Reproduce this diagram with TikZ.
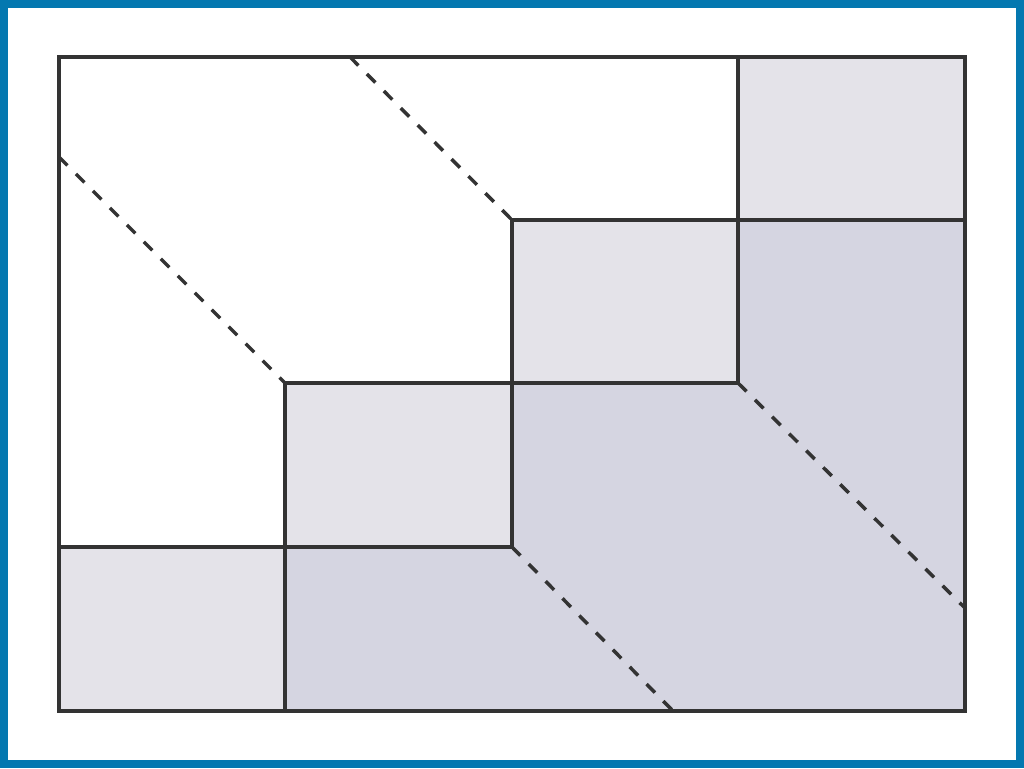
\documentclass[tikz,border=0pt]{standalone}
\begin{document}
\begin{tikzpicture}[x=1pt,y=-1pt,
  wall/.style={draw=dark,line width=3.5pt,line cap=rect},
  fold/.style={draw=dark,line width=3.5pt,dash pattern=on 12pt off 12pt},
  lightcell/.style={fill=lightgray1},
  darkcell/.style={fill=darkgray1}]
\definecolor{dark}{HTML}{333333}
\definecolor{frameblue}{HTML}{0478B0}
\definecolor{lightgray1}{HTML}{E4E3E9}
\definecolor{darkgray1}{HTML}{D5D5E1}
\useasboundingbox (0,0) rectangle (1024,768);
\fill[white] (0,0) rectangle (1024,768);
\draw[frameblue,line width=8pt] (4,4) rectangle (1020,764);
% grid coordinates
\coordinate (tl) at (59,57);
\coordinate (br) at (965,711);
% fills
\path[lightcell] (738,57) rectangle (965,220);
\path[lightcell] (512,220) rectangle (738,383);
\path[lightcell] (285,383) rectangle (512,547);
\path[lightcell] (59,547) rectangle (285,711);
\path[darkcell] (738,220) -- (965,220) -- (965,711) -- (285,711) -- (285,547) -- (512,547) -- (512,383) -- (738,383) -- cycle;
% dashed folds
\coordinate (d1a) at (59,157); \coordinate (d1b) at (285,383);
\coordinate (d2a) at (350,57); \coordinate (d2b) at (512,220);
\coordinate (d3a) at (738,383); \coordinate (d3b) at (965,608);
\coordinate (d4a) at (512,547); \coordinate (d4b) at (673,711);
\path[fold] (d1a) -- (d1b);
\path[fold] (d2a) -- (d2b);
\path[fold] (d3a) -- (d3b);
\path[fold] (d4a) -- (d4b);
% solid walls
\path[wall] (738,57) -- (738,383);
\path[wall] (512,220) -- (965,220);
\path[wall] (512,220) -- (512,547);
\path[wall] (285,383) -- (738,383);
\path[wall] (285,383) -- (285,711);
\path[wall] (59,547) -- (512,547);
\path[wall] (tl) rectangle (br);
\end{tikzpicture}
\end{document}
